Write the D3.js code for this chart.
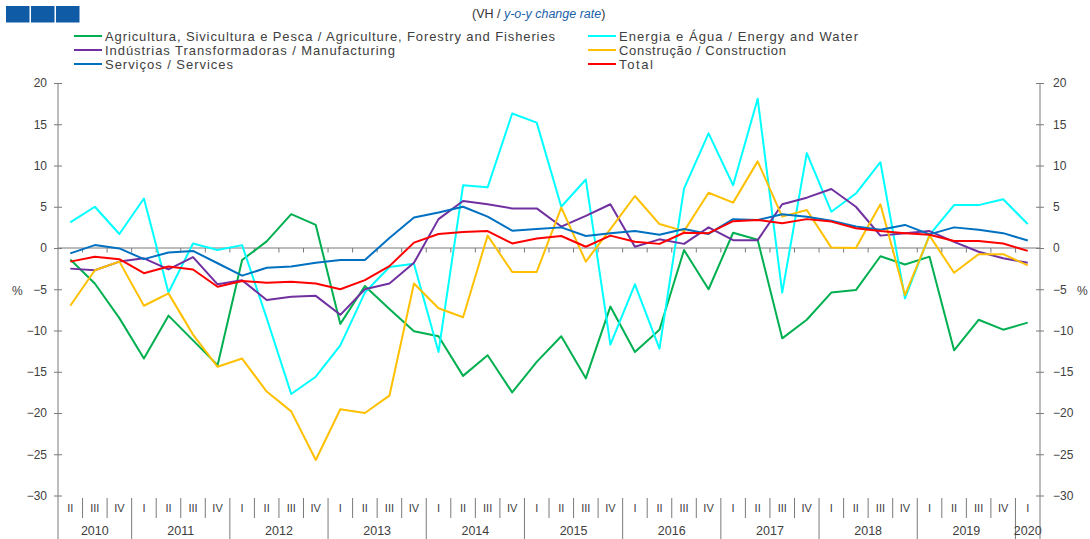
<!DOCTYPE html>
<html>
<head>
<meta charset="utf-8">
<script src="https://cdn.jsdelivr.net/npm/d3@7"></script>
<style>
  body { margin: 0; background: #fff; }
  svg { display: block; font-family: "Liberation Sans", Arial, sans-serif; }
</style>
</head>
<body>
<svg width="1090" height="539"></svg>
<script>
// quarters shown: 2010 II .. 2020 I
const years = ['2010', '2011', '2012', '2013', '2014', '2015', '2016', '2017', '2018', '2019', '2020'];
const quarterLabels = ['I', 'II', 'III', 'IV'];
const yTicks = [20, 15, 10, 5, 0, -5, -10, -15, -20, -25, -30];

// y-o-y change rate (%)
const agriculture = [-1.4, -4.3, -8.5, -13.4, -8.2, -11.2, -14.2, -1.45, 0.8, 4.1, 2.8, -9.2, -4.6, -7.4, -10.1, -10.7, -15.5, -13.0, -17.5, -13.8, -10.7, -15.8, -7.1, -12.6, -9.9, -0.25, -5.0, 1.85, 1.0, -10.95, -8.7, -5.4, -5.1, -1.0, -2.0, -1.05, -12.4, -8.7, -9.9, -9.05];
const energy = [3.1, 5.0, 1.7, 6.0, -5.4, 0.55, -0.25, 0.35, -8.5, -17.7, -15.6, -11.8, -5.4, -2.3, -1.9, -12.6, 7.6, 7.35, 16.3, 15.2, 5.0, 8.3, -11.7, -4.4, -12.2, 7.2, 13.9, 7.6, 18.1, -5.4, 11.5, 4.4, 6.6, 10.4, -6.1, 1.6, 5.2, 5.2, 5.9, 2.9];
const manufacturing = [-2.5, -2.7, -1.65, -1.25, -2.6, -1.1, -4.4, -3.9, -6.3, -5.9, -5.8, -8.1, -5.0, -4.3, -1.8, 3.5, 5.7, 5.3, 4.8, 4.8, 2.6, 3.9, 5.3, 0.15, 1.05, 0.5, 2.5, 0.95, 0.95, 5.3, 6.1, 7.15, 5.0, 1.5, 1.8, 2.05, 0.75, -0.45, -1.25, -1.8];
const construction = [-7.0, -2.7, -1.65, -7.0, -5.5, -10.5, -14.4, -13.4, -17.4, -19.8, -25.7, -19.55, -20.0, -17.9, -4.3, -7.3, -8.4, 1.5, -2.9, -2.9, 4.9, -1.65, 2.3, 6.3, 2.9, 2.05, 6.7, 5.5, 10.5, 3.8, 4.6, 0.05, 0.0, 5.3, -5.7, 1.5, -3.0, -0.75, -0.75, -2.1];
const services = [-0.65, 0.35, -0.05, -1.35, -0.55, -0.35, -1.85, -3.35, -2.4, -2.25, -1.8, -1.45, -1.45, 1.2, 3.7, 4.3, 5.0, 3.8, 2.1, 2.3, 2.5, 1.45, 1.8, 2.05, 1.6, 2.3, 1.7, 3.5, 3.4, 4.1, 3.8, 3.3, 2.6, 2.2, 2.8, 1.65, 2.5, 2.2, 1.8, 0.9];
const total = [-1.65, -1.05, -1.35, -3.05, -2.25, -2.6, -4.7, -4.0, -4.2, -4.1, -4.3, -5.0, -3.9, -2.2, 0.65, 1.7, 1.95, 2.05, 0.55, 1.15, 1.45, 0.15, 1.5, 0.75, 0.5, 1.85, 1.8, 3.25, 3.4, 3.0, 3.5, 3.2, 2.4, 2.05, 1.8, 1.6, 0.85, 0.85, 0.55, -0.35];

const seriesNames = [
  'Agricultura, Sivicultura e Pesca / Agriculture, Forestry and Fisheries',
  'Energia e Água / Energy and Water',
  'Indústrias Transformadoras / Manufacturing',
  'Construção / Construction',
  'Serviços / Services',
  'Total'
];
const seriesColors = ['#00b050', '#00ffff', '#7030a0', '#ffc000', '#0070c0', '#ff0000'];
const seriesValues = [agriculture, energy, manufacturing, construction, services, total];

// build the list of periods
const periods = [];
years.forEach((yr) => {
  quarterLabels.forEach((q, qi) => {
    if (yr === '2010' && qi === 0) return;
    if (yr === '2020' && qi > 0) return;
    periods.push({ key: yr + '-' + q, year: yr, q: q });
  });
});

const svg = d3.select('svg');
const axisColor = '#7a7a7a';
const textColor = '#404040';

const x = d3.scaleBand()
  .domain(periods.map((p) => p.key))
  .range([58, 1040])
  .padding(0);
const y = d3.scaleLinear().domain([-30, 20]).range([495.5, 83]);
const cx = (i) => x(periods[i].key) + x.bandwidth() / 2;

// header blocks
svg.selectAll('.block')
  .data([0, 1, 2])
  .enter()
  .append('rect')
  .attr('x', (d) => 6 + d * 25)
  .attr('y', 6)
  .attr('width', 23.5)
  .attr('height', 16.5)
  .attr('fill', '#0f5ba6');

// subtitle
const sub = svg.append('text')
  .attr('x', 472)
  .attr('y', 18)
  .attr('font-size', 12.5)
  .attr('fill', '#333');
sub.append('tspan').text('(VH / ');
sub.append('tspan').attr('fill', '#1a5fa8').attr('font-style', 'italic').text('y-o-y change rate');
sub.append('tspan').text(')');

// legend
const legendPos = [
  { x: 74, y: 36, w: 450 }, { x: 588, y: 36, w: 239 },
  { x: 74, y: 50, w: 290 }, { x: 588, y: 50, w: 167 },
  { x: 74, y: 64, w: 128 }, { x: 588, y: 64, w: 34 }
];
const legend = svg.selectAll('.legend')
  .data(seriesNames)
  .enter()
  .append('g')
  .attr('transform', (d, i) => `translate(${legendPos[i].x},${legendPos[i].y})`);
legend.append('line')
  .attr('x1', 0).attr('x2', 28)
  .attr('stroke', (d, i) => seriesColors[i])
  .attr('stroke-width', 2);
legend.append('text')
  .attr('x', 31)
  .attr('y', 4.5)
  .attr('font-size', 13)
  .attr('fill', textColor)
  .attr('textLength', (d, i) => legendPos[i].w)
  .attr('lengthAdjust', 'spacing')
  .text((d) => d);

// y axes
const leftAxis = svg.append('g')
  .attr('transform', 'translate(58,0)')
  .call(d3.axisLeft(y).tickValues(yTicks).tickSize(4).tickPadding(7).tickSizeOuter(0));
leftAxis.selectAll('.tick line').attr('x1', 4);
const rightAxis = svg.append('g')
  .attr('transform', 'translate(1040,0)')
  .call(d3.axisRight(y).tickValues(yTicks).tickSize(4).tickPadding(9).tickSizeOuter(0));
rightAxis.selectAll('.tick line').attr('x1', -4);
[leftAxis, rightAxis].forEach((ax) => {
  ax.select('.domain').remove();
  ax.selectAll('.tick line').attr('stroke', axisColor);
  ax.selectAll('.tick text').attr('font-size', 12).attr('fill', textColor).attr('font-family', 'Liberation Sans, Arial, sans-serif');
});
svg.append('line').attr('x1', 58).attr('x2', 58).attr('y1', y(20)).attr('y2', 539).attr('stroke', axisColor);
svg.append('line').attr('x1', 1040).attr('x2', 1040).attr('y1', y(20)).attr('y2', 539).attr('stroke', axisColor);

svg.append('text').attr('x', 12).attr('y', 295).attr('font-size', 12).attr('fill', textColor).text('%');
svg.append('text').attr('x', 1077).attr('y', 295).attr('font-size', 12).attr('fill', textColor).text('%');

// zero line with category ticks
svg.append('line')
  .attr('x1', 58).attr('x2', 1040)
  .attr('y1', y(0)).attr('y2', y(0))
  .attr('stroke', axisColor).attr('stroke-width', 1.2);
svg.selectAll('.zt')
  .data(periods.slice(1))
  .enter()
  .append('line')
  .attr('x1', (d) => x(d.key)).attr('x2', (d) => x(d.key))
  .attr('y1', y(0)).attr('y2', y(0) + 4.5)
  .attr('stroke', axisColor);

// bottom category axis
const bottomTop = 498;
svg.selectAll('.qsep')
  .data(periods.slice(1))
  .enter()
  .append('line')
  .attr('x1', (d) => x(d.key)).attr('x2', (d) => x(d.key))
  .attr('y1', bottomTop)
  .attr('y2', (d) => (d.q === 'I' ? 539 : 518))
  .attr('stroke', axisColor);
svg.selectAll('.qlab')
  .data(periods)
  .enter()
  .append('text')
  .attr('x', (d) => x(d.key) + x.bandwidth() / 2)
  .attr('y', 512)
  .attr('text-anchor', 'middle')
  .attr('font-size', 11)
  .attr('fill', textColor)
  .text((d) => d.q);
svg.selectAll('.ylab')
  .data(years)
  .enter()
  .append('text')
  .attr('x', (yr) => {
    const ps = periods.filter((p) => p.year === yr);
    return (x(ps[0].key) + x(ps[ps.length - 1].key) + x.bandwidth()) / 2;
  })
  .attr('y', 535)
  .attr('text-anchor', 'middle')
  .attr('font-size', 12.5)
  .attr('fill', textColor)
  .text((yr) => yr);

// series lines
const line = d3.line()
  .x((d, i) => cx(i))
  .y((d) => y(d));
svg.selectAll('.series')
  .data(seriesValues)
  .enter()
  .append('path')
  .attr('d', (d) => line(d))
  .attr('fill', 'none')
  .attr('stroke', (d, i) => seriesColors[i])
  .attr('stroke-width', 2)
  .attr('stroke-linejoin', 'round');
</script>
</body>
</html>
